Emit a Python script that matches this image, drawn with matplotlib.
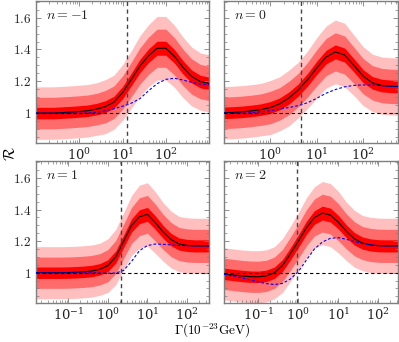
import matplotlib
matplotlib.use("Agg")
import matplotlib.pyplot as plt
import numpy as np
from matplotlib.ticker import LogLocator, LogFormatterMathtext, MultipleLocator, FixedLocator, FixedFormatter

plt.rcParams['mathtext.fontset'] = 'cm'
plt.rcParams['font.family'] = ['DejaVu Serif']

# ---------------- data (log10 Gamma grid, ratio R, blue reference, sigma) ----------------
labels = ["$n=-1$", "$n=0$", "$n=1$", "$n=2$"]
xlims_log = [(-1.0, 3.0), (-1.0, 2.75), (-1.82, 2.56), (-1.86, 2.49)]
xticks_shown = [[1, 10, 100], [1, 10, 100], [0.1, 1, 10, 100], [0.1, 1, 10, 100]]
vlines_log = [1.097, 0.667, 0.327, -0.04]

logx_m1 = [-1.0, -0.8, -0.6, -0.4, -0.2, 0.0, 0.2, 0.4, 0.6, 0.8, 1.0, 1.2, 1.4, 1.6, 1.8, 2.0, 2.2, 2.4, 2.6, 2.8, 3.0]
R_m1 = [1.0, 1.0, 1.0, 1.003, 1.006, 1.01, 1.015, 1.025, 1.04, 1.068, 1.128, 1.21, 1.295, 1.36, 1.408, 1.408, 1.357, 1.287, 1.23, 1.198, 1.187]
B_m1 = [1.0, 1.0, 1.0, 1.0, 1.0, 1.0, 1.0, 1.005, 1.015, 1.027, 1.043, 1.062, 1.09, 1.14, 1.185, 1.212, 1.219, 1.208, 1.193, 1.183, 1.177]
S_m1 = [0.033, 0.033, 0.033, 0.033, 0.033, 0.033, 0.033, 0.033, 0.034, 0.034, 0.035, 0.036, 0.038, 0.039, 0.040, 0.040, 0.039, 0.038, 0.037, 0.036, 0.036]

logx_0 = [-1.0, -0.8, -0.6, -0.4, -0.2, 0.0, 0.2, 0.4, 0.6, 0.8, 1.0, 1.2, 1.4, 1.6, 1.8, 2.0, 2.2, 2.4, 2.6, 2.75]
R_0 = [1.002, 1.004, 1.008, 1.014, 1.022, 1.035, 1.058, 1.095, 1.145, 1.21, 1.285, 1.352, 1.385, 1.365, 1.30, 1.232, 1.19, 1.173, 1.168, 1.167]
B_0 = [1.0, 1.0, 1.0, 1.003, 1.008, 1.015, 1.025, 1.035, 1.047, 1.065, 1.093, 1.125, 1.148, 1.165, 1.174, 1.177, 1.176, 1.172, 1.169, 1.168]
S_0 = [0.033, 0.033, 0.033, 0.033, 0.033, 0.034, 0.034, 0.035, 0.035, 0.036, 0.038, 0.039, 0.040, 0.040, 0.038, 0.037, 0.036, 0.036, 0.036, 0.036]

logx_1 = [-1.82, -1.6, -1.4, -1.2, -1.0, -0.8, -0.6, -0.4, -0.2, 0.0, 0.2, 0.4, 0.6, 0.8, 1.0, 1.2, 1.4, 1.6, 1.8, 2.0, 2.2, 2.4, 2.56]
R_1 = [1.0, 1.0, 1.0, 1.0, 1.001, 1.003, 1.006, 1.011, 1.022, 1.045, 1.10, 1.20, 1.30, 1.355, 1.37, 1.318, 1.258, 1.21, 1.182, 1.173, 1.17, 1.17, 1.17]
B_1 = [1.0, 1.0, 1.0, 1.0, 1.0, 1.0, 1.0, 1.0, 0.998, 0.997, 0.998, 1.015, 1.072, 1.14, 1.172, 1.182, 1.18, 1.176, 1.173, 1.171, 1.17, 1.17, 1.17]
S_1 = [0.033, 0.033, 0.033, 0.033, 0.033, 0.033, 0.033, 0.033, 0.033, 0.034, 0.035, 0.036, 0.038, 0.040, 0.040, 0.039, 0.037, 0.036, 0.035, 0.035, 0.035, 0.035, 0.035]

logx_2 = [-1.86, -1.6, -1.4, -1.2, -1.0, -0.8, -0.6, -0.4, -0.2, 0.0, 0.2, 0.4, 0.6, 0.8, 1.0, 1.2, 1.4, 1.6, 1.8, 2.0, 2.2, 2.4, 2.49]
R_2 = [0.993, 0.985, 0.979, 0.975, 0.974, 0.98, 1.0, 1.045, 1.12, 1.20, 1.285, 1.35, 1.378, 1.365, 1.32, 1.262, 1.215, 1.188, 1.176, 1.171, 1.17, 1.17, 1.17]
B_2 = [0.99, 0.978, 0.966, 0.955, 0.942, 0.931, 0.925, 0.932, 0.96, 1.007, 1.08, 1.15, 1.195, 1.218, 1.222, 1.212, 1.197, 1.185, 1.177, 1.172, 1.17, 1.17, 1.17]
S_2 = [0.033, 0.033, 0.033, 0.033, 0.033, 0.033, 0.033, 0.034, 0.035, 0.036, 0.038, 0.039, 0.040, 0.040, 0.039, 0.037, 0.036, 0.035, 0.035, 0.035, 0.035, 0.035, 0.035]

panels = [(logx_m1, R_m1, B_m1, S_m1), (logx_0, R_0, B_0, S_0),
          (logx_1, R_1, B_1, S_1), (logx_2, R_2, B_2, S_2)]

band_levels = [5.0, 3.0, 1.1]
band_colors = ["#ffbfbf", "#ff6b6b", "#ff0000"]

# ---------------- figure ----------------
fig = plt.figure(figsize=(3.99, 3.42), dpi=100)
W, H = 399.0, 342.0
boxes = [(36, 0.5, 209, 143.3), (224, 0.5, 398, 143.3),
         (36, 161, 209, 302.7), (224, 161, 398, 302.7)]

spine_col = "#7f7f7f"
for i, (x0, y0, x1, y1) in enumerate(boxes):
    ax = fig.add_axes([x0 / W, 1 - y1 / H, (x1 - x0) / W, (y1 - y0) / H])
    lx, R, B, S = panels[i]
    x = 10.0 ** np.array(lx)
    R = np.array(R); B = np.array(B); S = np.array(S)
    for lev, col in zip(band_levels, band_colors):
        ax.fill_between(x, R - lev * S, R + lev * S, color=col, lw=0, zorder=1)
    ax.plot(x, R, color="black", lw=0.8, zorder=3)
    ax.plot(x, B, color="blue", lw=0.8, ls=(0, (2.5, 1.8)), zorder=3)
    ax.axhline(1.0, color="black", lw=0.8, ls=(0, (3, 2.5)), zorder=4)
    ax.axvline(10 ** vlines_log[i], color="#444444", lw=1.0, ls=(0, (3, 2.5)), zorder=4)

    ax.set_xscale("log")
    ax.set_xlim(10 ** xlims_log[i][0], 10 ** xlims_log[i][1])
    ax.set_ylim(0.81, 1.708)
    ax.xaxis.set_major_locator(FixedLocator(xticks_shown[i]))
    ax.xaxis.set_minor_locator(LogLocator(base=10, subs=np.arange(2, 10), numticks=20))
    ax.xaxis.set_major_formatter(LogFormatterMathtext())
    ax.yaxis.set_major_locator(FixedLocator([1.0, 1.2, 1.4, 1.6]))
    ax.yaxis.set_minor_locator(MultipleLocator(0.05))
    if i in (0, 2):
        ax.yaxis.set_major_formatter(FixedFormatter(["$1$", "$1.2$", "$1.4$", "$1.6$"]))
    else:
        ax.set_yticklabels([])
    ax.tick_params(which="both", direction="in", top=True, right=True, colors=spine_col,
                   labelcolor="#222222", labelsize=9.5)
    ax.tick_params(which="major", length=3.5, width=0.6)
    ax.tick_params(which="minor", length=2, width=0.5)
    ax.tick_params(axis="x", pad=3)
    for sp in ax.spines.values():
        sp.set_color(spine_col)
        sp.set_linewidth(1.0)
    ax.text(0.06, 0.9, labels[i], transform=ax.transAxes, fontsize=10,
            ha="left", va="center", color="#222222")

fig.text(0.027, 0.55, r"$\mathcal{R}$", rotation=90, ha="center", va="center", fontsize=11)
fig.text(0.532, 0.031, r"$\Gamma(10^{-23}\mathrm{GeV})$", ha="center", va="center", fontsize=9.5)

fig.savefig("out.png", dpi=100)
